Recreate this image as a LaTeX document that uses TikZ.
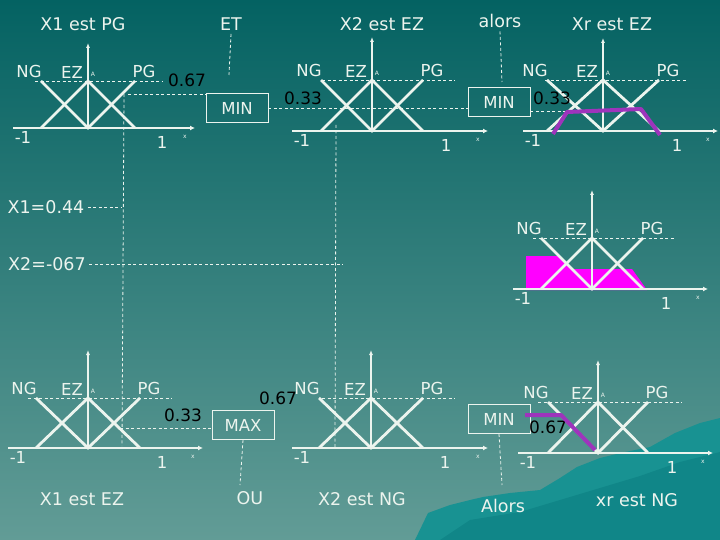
\documentclass[tikz,border=0pt]{standalone}
\usepackage{fontspec}
\setmainfont{DejaVu Sans}
\usetikzlibrary{calc}
\usetikzlibrary{arrows.meta}
\definecolor{bgtop}{RGB}{4,98,98}
\definecolor{bgbot}{RGB}{98,156,150}
\definecolor{hill}{RGB}{24,146,146}
\definecolor{hilldark}{RGB}{16,134,136}
\definecolor{chalk}{RGB}{236,244,238}
\definecolor{cut}{RGB}{158,52,188}
\definecolor{agg}{RGB}{255,0,255}
\tikzset{
  mf/.style={chalk, line width=2.8pt},
  axis/.style={chalk, line width=1.8pt, -{Latex[length=5pt,width=5pt]}},
  vaxis/.style={chalk, line width=1.1pt, -{Latex[length=5pt,width=4pt]}},
  guide/.style={chalk, line width=0.8pt, dash pattern=on 3pt off 2.5pt},
  lab/.style={text=chalk, font=\fontsize{16.5}{16.5}\selectfont},
  title/.style={text=chalk, font=\fontsize{17.5}{17.5}\selectfont},
  val/.style={text=black, font=\fontsize{17}{17}\selectfont},
  smalllab/.style={text=chalk, font=\fontsize{6}{6}\selectfont},
  opbox/.style={draw=chalk, line width=0.9pt, minimum width=62pt, minimum height=29pt, lab}
}
\begin{document}
\begin{tikzpicture}[x=1pt,y=-1pt]
        \useasboundingbox (0,0) rectangle (720,540);
        \shade [top color=bgtop, bottom color=bgbot] (0,0) rectangle (720,540);
        \fill [hill] (415,540) -- (428,513) -- (450,505) -- (470,500) -- (483,497) -- (510,493)
            -- (540,490) -- (560,478) -- (577,467) -- (600,458) -- (625,452) -- (650,447)
            -- (675,433) -- (700,423) -- (720,418) -- (720,540) -- cycle;
        \fill [hilldark] (440,540) -- (470,520) -- (520,512) -- (560,500) -- (600,488) -- (640,476)
            -- (680,462) -- (720,452) -- (720,540) -- cycle;

        \fill [agg] (526,290) -- (526,256) -- (559,256) -- (572,269) -- (632,269) -- (647,290) -- cycle;

        \foreach \k/\cx/\ay/\py/\h/\xa/\xb/\vt/\da/\db in {
            1/88/128/81/47/13/195/43/35/163,
            2/372/131/80/51/292/488/37/322/455,
            3/603/131/80/56/523/718/38/545/687,
            4/592/289/238/51/513/708/190/533/675,
            5/88/448/398/52/8/203/350/28/172,
            6/371/448/398/52/292/488/350/322/455,
            7/598/453/402/50/518/713/360/538/682} {
          \draw [guide] (\da,\py) -- (\db,\py);
          \draw [axis] (\xa,\ay) -- (\xb,\ay);
          \draw [vaxis] (\cx,\ay) -- (\cx,\vt);
          \draw [mf] ({\cx-\h},\py) -- (\cx,\ay) -- ({\cx+\h},\py);
          \draw [mf] ({\cx-\h},\ay) -- (\cx,\py) -- ({\cx+\h},\ay);
          \node [lab] (ng\k) at ({\cx-\h-12},{\py-10}) {NG};
          \node [lab] (ez\k) at ({\cx-16},{\py-9}) {EZ};
          \node [smalllab] (mu\k) at ({\cx+5},{\py-7}) {A};
          \node [lab] (pg\k) at ({\cx+\h+9},{\py-10}) {PG};
          \node [lab] (lo\k) at ({\xa+10},{\ay+9}) {-1};
          \node [lab] (hi\k) at ({\cx+74},{\ay+14}) {1};
          \node [smalllab] (xl\k) at ({\xb-10},{\ay+9}) {x};
        }

        \node [title] (t1) at (83,24) {X1 est PG};
        \node [title] (et) at (231,24) {ET};
        \node [title] (t2) at (382,24) {X2 est EZ};
        \node [title] (alors) at (500,21) {alors};
        \node [title] (t3) at (612,24) {Xr est EZ};
        \node [title] (x1val) at (46,207) {X1=0.44};
        \node [title] (x2val) at (47,264) {X2=-067};
        \node [title] (t5) at (82,499) {X1 est EZ};
        \node [title] (ou) at (250,498) {OU};
        \node [title] (t6) at (362,499) {X2 est NG};
        \node [title] (alorsb) at (503,506) {Alors};
        \node [title] (t7) at (637,500) {xr est NG};

        \node [opbox] (min1) at (237,108) {MIN};
        \node [opbox] (min2) at (499,102) {MIN};
        \node [opbox] (max1) at (243,425) {MAX};
        \node [opbox] (min3) at (499,419) {MIN};

        \coordinate (etfoot) at (229,75);
        \coordinate (alorsfoot) at (502,82);
        \coordinate (cut1) at (128,94);
        \coordinate (cut3) at (577,111);
        \coordinate (cut5) at (120,428);
        \coordinate (x1end) at (121,207);
        \coordinate (x2end) at (343,264);
        \coordinate (x1top) at (124,94);
        \coordinate (x1bot) at (122,446);
        \coordinate (x2top) at (336,125);
        \coordinate (x2bot) at (335,447);
        \coordinate (oufoot) at (240,485);
        \coordinate (alorsbfoot) at (502,485);

        \draw [guide] (et.south) -- (etfoot);
        \draw [guide] (alors.south) -- (alorsfoot);
        \draw [guide] (cut1) -- (cut1 -| min1.west);
        \draw [guide] (min1.east) -- (min1.east -| min2.west);
        \draw [guide] (min2.east |- cut3) -- (cut3);
        \draw [guide] (x1val.east) -- (x1end);
        \draw [guide] (x2val.east) -- (x2end);
        \draw [guide] (x1top) -- (x1bot);
        \draw [guide] (x2top) -- (x2bot);
        \draw [guide] (cut5) -- (cut5 -| max1.west);
        \draw [guide] ($(max1.north east)+(0,1)$) -- ($(max1.north east)+(0,1)$ -| min3.west);
        \draw [guide] (max1.south) -- (oufoot);
        \draw [guide] (min3.south) -- (alorsbfoot);

        \node [val] (v1) at (187,80) {0.67};
        \node [val] (v2) at (303,98) {0.33};
        \node [val] (v3) at (552,98) {0.33};
        \node [val] (v5) at (183,415) {0.33};
        \node [val] (v6) at (278,398) {0.67};
        \node [val] (v7) at (548,427) {0.67};

        \draw [cut, line width=4pt, line join=round] (553,134) -- (567,112) -- (641,109) -- (660,135);
        \draw [cut, line width=4pt, line join=round] (525,415) -- (561,415) -- (595,450);
\end{tikzpicture}
\end{document}
